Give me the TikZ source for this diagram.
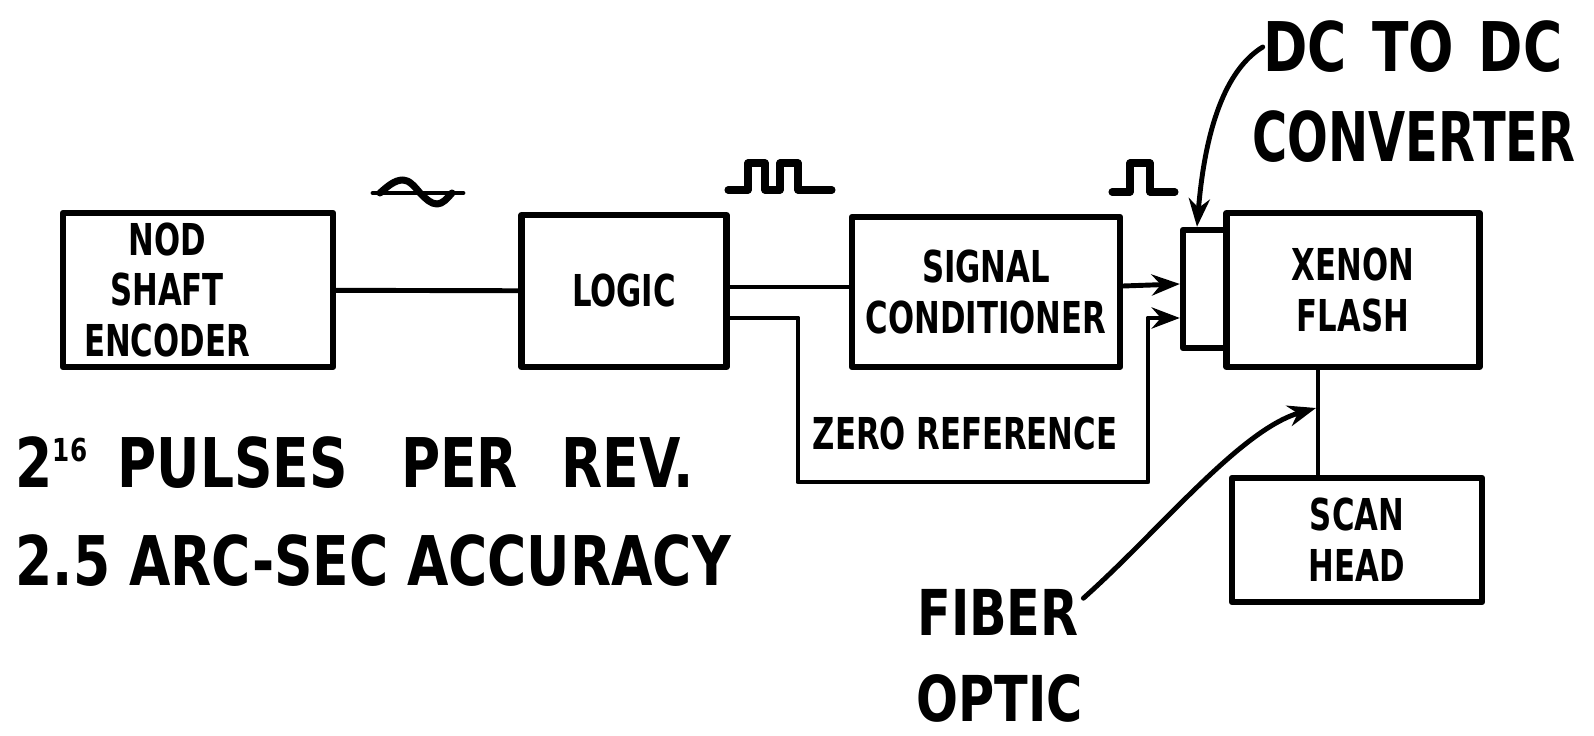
\documentclass[tikz,border=0pt]{standalone}
\usepackage{fontspec}
\newfontfamily\hand{DejaVu Sans}[FakeStretch=0.7]
\newfontfamily\handwide{DejaVu Sans}[FakeStretch=0.78]
\usetikzlibrary{calc,arrows.meta}

\begin{document}
\begin{tikzpicture}[x=0.1mm,y=-0.1mm,line cap=round,line join=round,
  box/.style={draw,line width=1.8pt,inner sep=0pt,align=center,
    font=\hand\bfseries\fontsize{12.5}{14.5}\selectfont},
  lbl/.style={inner sep=0pt,align=center,font=\hand\bfseries\fontsize{12.5}{14.5}\selectfont},
  big/.style={inner sep=0pt,font=\handwide\bfseries\fontsize{19.5}{23}\selectfont},
  wire/.style={line width=1.4pt},
  arr/.style={-{Stealth[length=8pt,width=6pt]}}]
  \useasboundingbox (0,0) rectangle (1594,736);
  % blocks
  \node[box,minimum width=27mm,minimum height=15.4mm] (nod) at (198,290) {};
  \node[lbl] (nodtxt) at (167,290) {NOD\\SHAFT\\ENCODER};
  \node[box,minimum width=20.5mm,minimum height=15.2mm] (logic) at (624,291) {LOGIC};
  \node[box,minimum width=26.8mm,minimum height=15mm] (sig) at (986,292) {SIGNAL\\CONDITIONER};
  \node[box,minimum width=25.3mm,minimum height=15.4mm] (xenon) at (1353,290) {XENON\\FLASH};
  \node[box,minimum width=4.4mm,minimum height=11.8mm] (conv) at (1205,289) {};
  \node[box,minimum width=25mm,minimum height=12.4mm] (scan) at (1357,540) {SCAN\\HEAD};
  % labels
  \node[big] (dctop) at (1413,47) {DC\hspace{2.5mm}TO\hspace{2.5mm}DC};
  \node[big,font=\hand\bfseries\fontsize{19.5}{23}\selectfont] (dcbot) at (1414,137) {CONVERTER};
  \node[big,font=\handwide\bfseries\fontsize{18}{22}\selectfont] (fiber) at (998,612) {FIBER};
  \node[big,font=\handwide\bfseries\fontsize{18}{22}\selectfont] (optic) at (1000,698) {OPTIC};
  \node[big,anchor=west] (pulses) at (15,463)
    {2\textsuperscript{\fontsize{9}{9}\selectfont 16}\hspace{1mm} PULSES\hspace{3.5mm} PER\hspace{2.5mm} REV.};
  \node[big,anchor=west] (accur) at (15,561) {2.5 ARC-SEC ACCURACY};
  \node[lbl] (zero) at (965,434) {ZERO REFERENCE};
  % connections
  \coordinate (zr1) at (798,482);
  \coordinate (zr2) at (1148,482);
  \draw[wire] (nod) -- (logic);
  \draw[wire] ($(logic.east)+(0,-4)$) -- ($(sig.west)+(0,-5)$);
  \draw[wire,arr] ($(sig.east)+(0,-6)$) -- ($(conv.west)+(0,-5)$);
  \draw[wire,arr] ($(logic.east)+(0,27)$) -| (zr1) -- (zr2) |- ($(conv.west)+(0,29)$);
  \draw[wire] ($(xenon.south)+(-35,0)$) -- ($(scan.north)+(-39,0)$);
  \draw[wire,arr] (dctop.west) .. controls (1225,70) and (1205,130) .. ($(conv.north)+(-8,0)$);
  \draw[wire,arr] ($(fiber.north east)+(4,10)$) .. controls (1160,530) and (1240,430) .. (1316,408);
  % waveforms
  \draw[wire] (373,193) -- (463,193);
  \draw[line width=2pt] (380,193) sin (403,180) cos (420,193) sin (437,204) cos (452,193);
  \draw[line width=2pt] (728,190) -- (748,190) -- (748,163) -- (765,163) -- (765,190)
    -- (780,190) -- (780,163) -- (798,163) -- (798,190) -- (832,190);
  \draw[line width=2pt] (1112,192) -- (1130,192) -- (1130,163) -- (1150,163) -- (1150,192) -- (1175,192);
\end{tikzpicture}
\end{document}
